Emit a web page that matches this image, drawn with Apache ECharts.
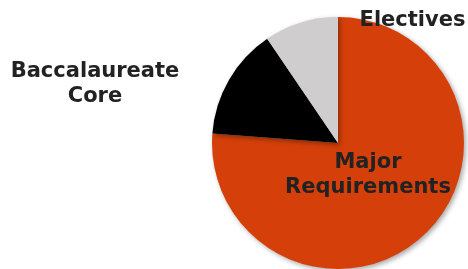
<!DOCTYPE html>
<html><head><meta charset="utf-8">
<script src="https://cdn.jsdelivr.net/npm/echarts@6/dist/echarts.min.js"></script>
<style>html,body{margin:0;padding:0;background:#fff}#c{width:468px;height:269px}</style>
</head><body><div id="c"></div>
<script>
const categories = ["Major\nRequirements", "Baccalaureate\nCore", "Electives"];
const values = [76.2, 14.3, 9.5];
const colors = ["#D5400A", "#000000", "#D0CDCE"];
const labelPos = [[368, 175], [95, 84], [412.5, 20.5]];

const chart = echarts.init(document.getElementById('c'), null, {renderer: 'canvas'});
chart.setOption({
  animation: false,
  series: [{
    type: 'pie',
    center: [338, 143],
    radius: 126,
    startAngle: 90,
    clockwise: true,
    data: categories.map((n, i) => ({name: n, value: values[i], itemStyle: {color: colors[i]}})),
    itemStyle: {shadowBlur: 5, shadowOffsetX: 2, shadowOffsetY: 2, shadowColor: 'rgba(0,0,0,0.35)'},
    label: {
      show: true, position: 'inside', formatter: '{b}',
      fontFamily: 'DejaVu Sans', fontWeight: 'bold', fontSize: 21,
      color: '#222', lineHeight: 25, align: 'center', verticalAlign: 'middle'
    },
    labelLine: {show: false},
    emphasis: {disabled: true},
    labelLayout: function (p) {
      return {x: labelPos[p.dataIndex][0], y: labelPos[p.dataIndex][1], align: 'center', verticalAlign: 'middle'};
    }
  }]
});
</script></body></html>
